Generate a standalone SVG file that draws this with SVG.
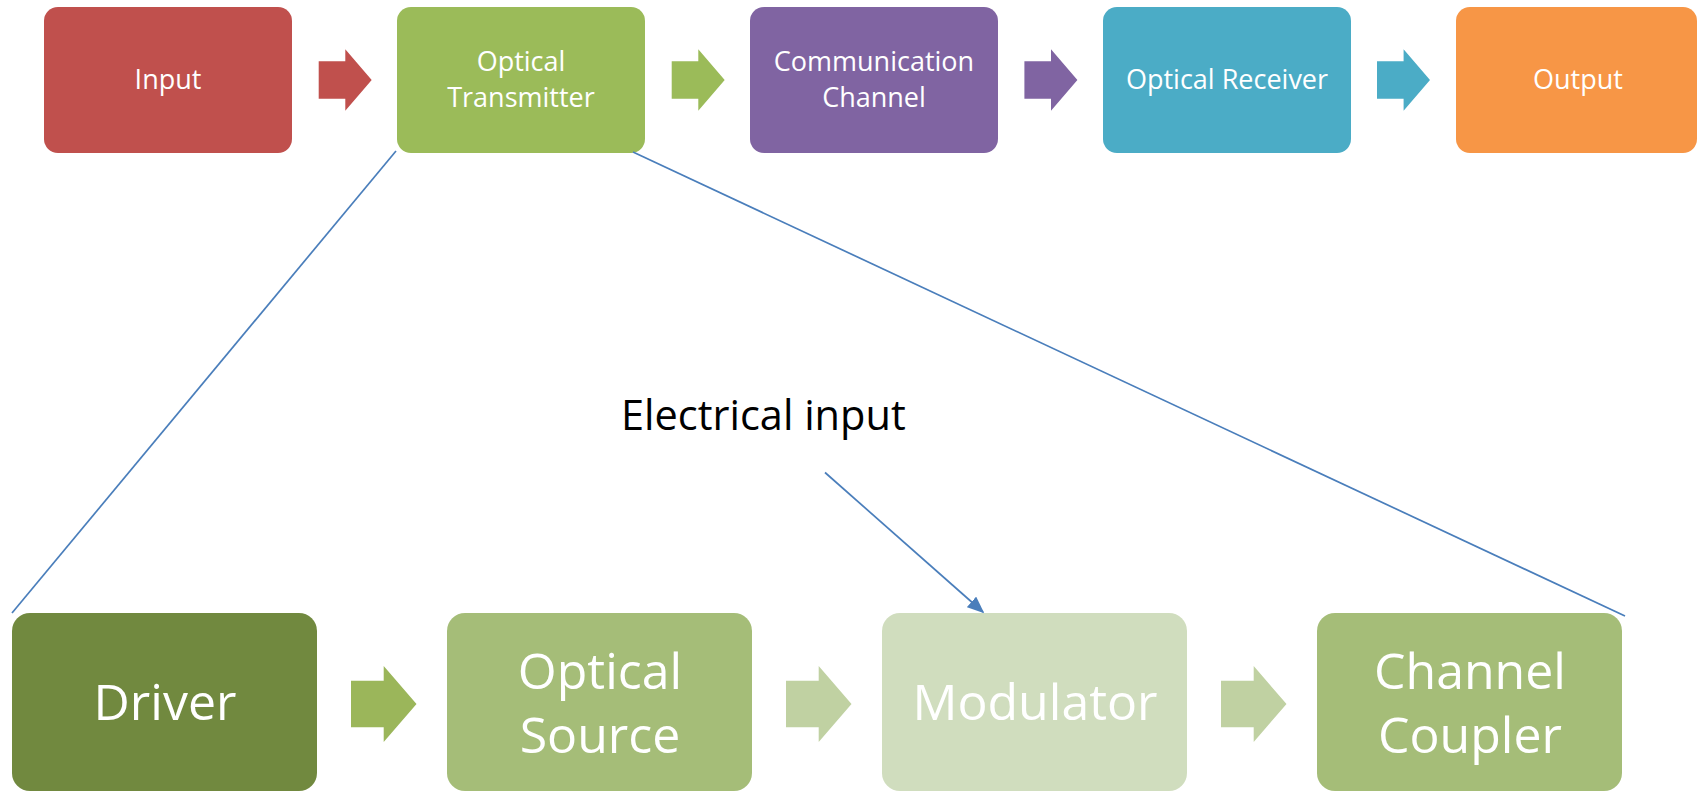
<svg xmlns="http://www.w3.org/2000/svg" width="1698" height="793" viewBox="0 0 1698 793">
  <defs>
    <style>
      .lbl { font-family: "Open Sans", "Noto Sans", sans-serif; fill: #ffffff; text-anchor: middle; }
      .top { font-size: 27px; }
      .big { font-size: 50px; }
      .note { font-family: "Open Sans", "Noto Sans", sans-serif; font-size: 41.5px; fill: #000000; }
      .zoom { stroke: #4a7ebb; stroke-width: 1.7; fill: none; }
    </style>
    <marker id="tip" viewBox="0 0 10 10" refX="9" refY="5" markerWidth="17" markerHeight="14" markerUnits="userSpaceOnUse" orient="auto" preserveAspectRatio="none">
      <path d="M0,0 L10,5 L0,10 z" fill="#4a7ebb"/>
    </marker>
    <!-- block arrow, drawn at origin (tail left, tip right) -->
    <path id="arrowTop" d="M0,-18.7 H26.6 V-30.7 L53,0 L26.6,30.7 V18.7 H0 z"/>
    <path id="arrowBig" d="M0,-23.3 H32.7 V-38 L65.5,0 L32.7,38 V23.3 H0 z"/>
  </defs>

  <rect width="1698" height="793" fill="#ffffff"/>

  <!-- top row: system overview -->
  <g id="input">
    <rect x="44" y="7" width="248" height="146" rx="14" fill="#c0504d"/>
    <text class="lbl top" x="168" y="89">Input</text>
  </g>
  <g id="optical-transmitter">
    <rect x="397" y="7" width="248" height="146" rx="14" fill="#9bbb59"/>
    <text class="lbl top" x="521" y="70.5">Optical</text>
    <text class="lbl top" x="521" y="106.5">Transmitter</text>
  </g>
  <g id="communication-channel">
    <rect x="750" y="7" width="248" height="146" rx="14" fill="#8064a2"/>
    <text class="lbl top" x="874" y="70.5">Communication</text>
    <text class="lbl top" x="874" y="106.5">Channel</text>
  </g>
  <g id="optical-receiver">
    <rect x="1103" y="7" width="248" height="146" rx="14" fill="#4bacc6"/>
    <text class="lbl top" x="1227" y="89">Optical Receiver</text>
  </g>
  <g id="output">
    <rect x="1456" y="7" width="241" height="146" rx="14" fill="#f79646"/>
    <text class="lbl top" x="1578" y="89">Output</text>
  </g>

  <!-- bottom row: transmitter internals -->
  <g id="driver">
    <rect x="12" y="613" width="305" height="178" rx="18" fill="#71893f"/>
    <text class="lbl big" x="165" y="719.5">Driver</text>
  </g>
  <g id="optical-source">
    <rect x="447" y="613" width="305" height="178" rx="18" fill="#a5bd78"/>
    <text class="lbl big" x="600" y="688.5">Optical</text>
    <text class="lbl big" x="600" y="752.5">Source</text>
  </g>
  <g id="modulator">
    <rect x="882" y="613" width="305" height="178" rx="18" fill="#d0ddbe"/>
    <text class="lbl big" x="1035" y="720">Modulator</text>
  </g>
  <g id="channel-coupler">
    <rect x="1317" y="613" width="305" height="178" rx="18" fill="#a5bd78"/>
    <text class="lbl big" x="1470" y="688.5">Channel</text>
    <text class="lbl big" x="1470" y="752.5">Coupler</text>
  </g>

  <g id="electrical-input-label">
    <text class="note" x="621" y="430">Electrical input</text>
  </g>

  <g id="connectors">
    <!-- flow arrows, top row -->
    <use href="#arrowTop" x="318.7" y="80" fill="#c0504d"/>
    <use href="#arrowTop" x="671.7" y="80" fill="#9bbb59"/>
    <use href="#arrowTop" x="1024.4" y="80" fill="#8064a2"/>
    <use href="#arrowTop" x="1377" y="80" fill="#4bacc6"/>
    <!-- flow arrows, bottom row -->
    <use href="#arrowBig" x="351" y="704" fill="#9bb65a"/>
    <use href="#arrowBig" x="786" y="704" fill="#c0d1a2"/>
    <use href="#arrowBig" x="1221" y="704" fill="#c0d1a2"/>
    <!-- zoom-out lines from the transmitter block -->
    <line class="zoom" x1="396" y1="151" x2="12" y2="613"/>
    <line class="zoom" x1="633" y1="152" x2="1625" y2="616"/>
    <!-- electrical input into the modulator -->
    <line class="zoom" x1="825" y1="472.5" x2="983" y2="612" marker-end="url(#tip)"/>
  </g>
</svg>
